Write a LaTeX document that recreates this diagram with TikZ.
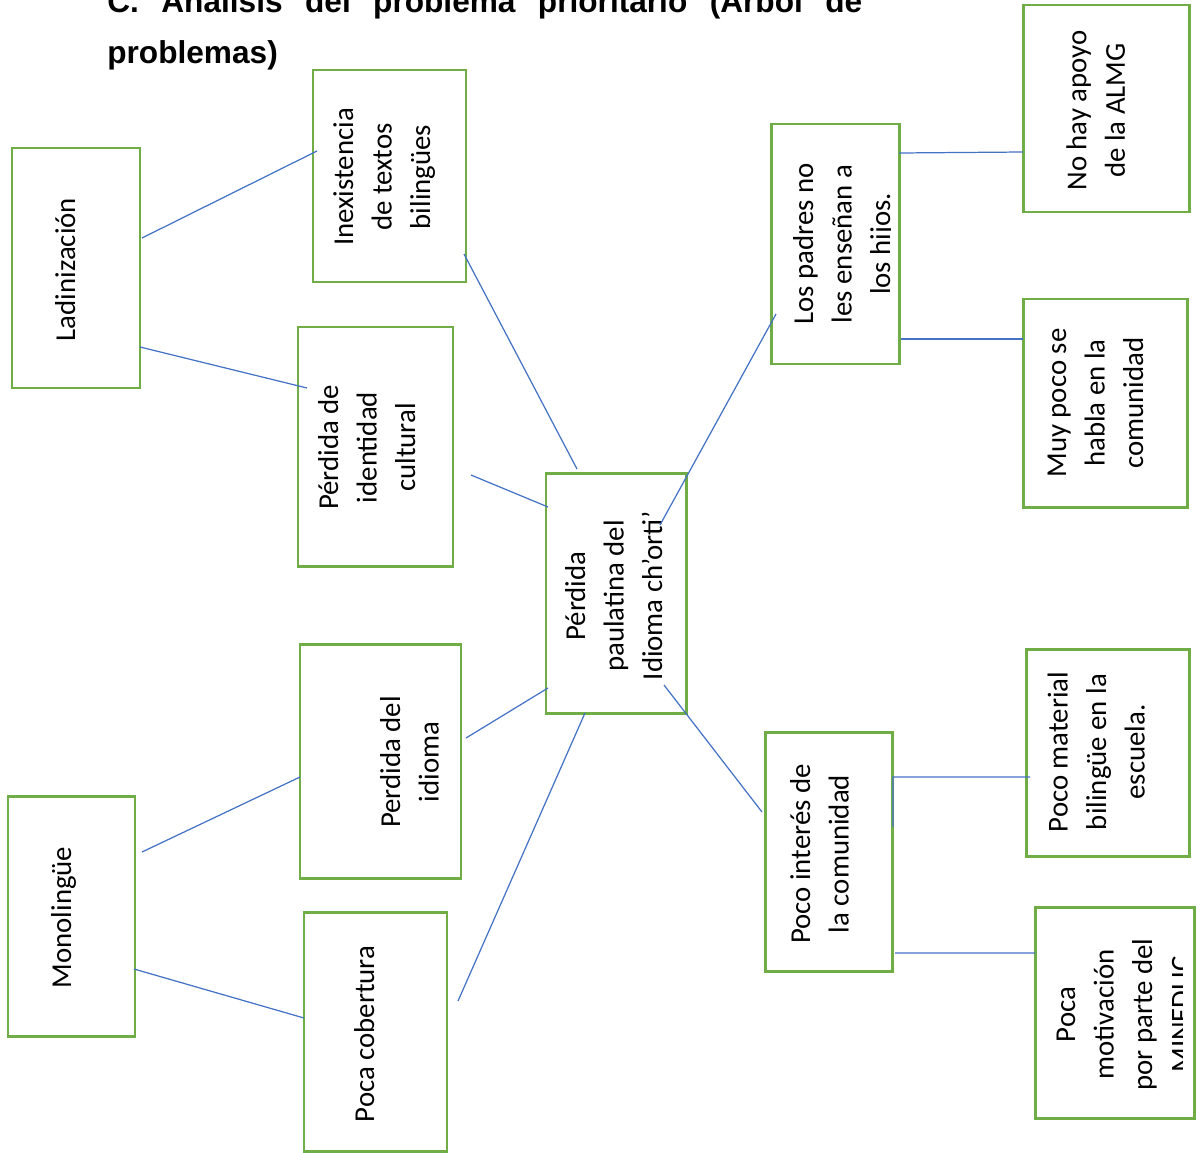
\documentclass[tikz,border=0pt]{standalone}
\usepackage{fontspec}
\setmainfont{Carlito}
\newfontfamily\arialfont{Liberation Sans}
\usetikzlibrary{calc}
\definecolor{verdecaja}{RGB}{112,173,71}
\definecolor{azullinea}{RGB}{68,114,196}
\newcommand{\lineas}[1]{\begin{tabular}{@{}c@{}}#1\end{tabular}}

\begin{document}
\begin{tikzpicture}[
    x=0.02cm, y=-0.02cm,
    caja/.style 2 args={draw=verdecaja, line width=1.7pt, minimum width=#1*0.02cm, minimum height=#2*0.02cm, inner sep=0pt, outer sep=0pt},
    texto/.style={rotate=90, inner sep=0pt, font=\fontsize{16.4}{21.9}\selectfont},
    conector/.style={draw=azullinea, line width=0.7pt},
    titulo/.style={anchor=base west, inner sep=0pt, font=\arialfont\bfseries\fontsize{18}{22}\selectfont},
]
\useasboundingbox (0,0) rectangle (1197,1153);

\node[titulo] (tit1) at (107,12) {\makebox[15.1cm][s]{C. Análisis del problema prioritario (Árbol de}};
\node[titulo] (tit2) at (107,63) {problemas)};

\node[caja={128}{240}] (lad) at (76,268) {};
\node[caja={153}{212}] (inex) at (389.5,176) {};
\node[caja={155}{239}] (ident) at (375.5,446.5) {};
\node[caja={140}{240}] (ctr) at (616,593) {};
\node[caja={128}{240}] (padres) at (835,244) {};
\node[caja={166}{207}] (almg) at (1106,108.5) {};
\node[caja={164}{208}] (habla) at (1105,403) {};
\node[caja={161}{234}] (idioma) at (380.5,761) {};
\node[caja={127}{240}] (mono) at (71.5,916) {};
\node[caja={143}{239}] (cobert) at (375.5,1031.5) {};
\node[caja={127}{239}] (interes) at (828.5,851.5) {};
\node[caja={163}{207}] (material) at (1107.5,752.5) {};
\node[caja={159}{211}] (mineduc) at (1114.5,1012.5) {};

\node[texto] (ladT) at (67.4,269.5) {\lineas{Ladinización}};
\node[texto] (inexT) at (384,177) {\lineas{Inexistencia\\de textos\\bilingües}};
\node[texto] (identT) at (369,447.5) {\lineas{Pérdida de\\identidad\\cultural}};
\node[texto] (ctrT) at (616,596) {\lineas{Pérdida\\paulatina del\\Idioma ch’orti’}};
\begin{scope}
\clip (padres.north west) rectangle ($(padres.south east)+(-9,0)$);
\node[texto] (padresT) at (844,244) {\lineas{Los padres no\\les enseñan a\\los hijos.}};
\end{scope}
\node[texto] (almgT) at (1098,110.5) {\lineas{No hay apoyo\\de la ALMG}};
\node[texto] (hablaT) at (1097,403) {\lineas{Muy poco se\\habla en la\\comunidad}};
\node[texto] (idiomaT) at (411.6,762) {\lineas{Perdida del\\idioma}};
\node[texto] (monoT) at (63.4,917.5) {\lineas{Monolingüe}};
\node[texto] (cobertT) at (366.4,1034) {\lineas{Poca cobertura}};
\node[texto] (interesT) at (821.6,854) {\lineas{Poco interés de\\la comunidad}};
\node[texto] (materialT) at (1098.4,752) {\lineas{Poco material\\bilingüe en la\\escuela.}};
\begin{scope}
\clip (mineduc.north west) rectangle ($(mineduc.south east)+(-12,0)$);
\node[texto] (mineducT) at (1125.2,1014.5) {\lineas{Poca\\motivación\\por parte del\\MINEDUC}};
\end{scope}

\draw[conector] ($(lad.east)+(2,-30)$) -- ($(inex.west)+(4,-25)$);
\draw[conector] ($(lad.east)+(0,79)$) -- ($(ident.west)+(9,-58.5)$);
\draw[conector] ($(inex.east)+(-2,78)$) -- ($(ctr.north)+(-39,-4)$);
\draw[conector] ($(ident.east)+(18,28.5)$) -- ($(ctr.west)+(2,-86)$);
\draw[conector] ($(ctr.center)+(44,-68)$) -- ($(padres.west)+(5,70)$);
\draw[conector] ($(padres.east)+(0,-91)$) -- ($(almg.west)+(0,43.5)$);
\draw[conector] ($(padres.east)+(2,95)$) -- ($(habla.west)+(0,-64)$);
\draw[conector] ($(ctr.west)+(2,95)$) -- ($(idioma.east)+(5,-23)$);
\draw[conector] ($(mono.east)+(7,-64)$) -- ($(idioma.west)+(0,16)$);
\draw[conector] ($(mono.east)+(-1,53)$) -- ($(cobert.west)+(0,-13.5)$);
\draw[conector] ($(ctr.south)+(-31,0)$) -- ($(cobert.east)+(11,-30.5)$);
\draw[conector] ($(ctr.center)+(48,92)$) -- ($(interes.west)+(-3,-39.5)$);
\draw[conector] ($(material.west)+(4,24.5)$) -- ($(interes.east)+(1,-74.5)$) -- ($(interes.east)+(1,-24.5)$);
\draw[conector] ($(interes.east)+(3,101.5)$) -- ($(mineduc.west)+(0,-59.5)$);
\end{tikzpicture}
\end{document}
